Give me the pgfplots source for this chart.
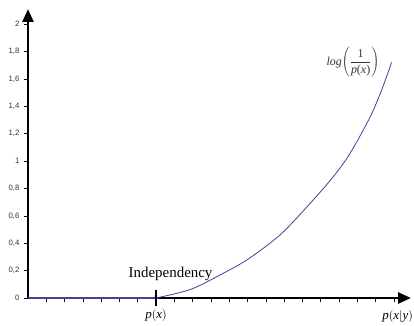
\documentclass[border=0pt]{standalone}
\usepackage{fontspec}
\setmainfont{Liberation Serif}
\newfontfamily\arial{Liberation Sans}
\usepackage{pgfplots}
\pgfplotsset{compat=1.18}
\usetikzlibrary{arrows.meta}
\definecolor{curve}{RGB}{72,62,150}
\begin{document}
\begin{tikzpicture}
\begin{axis}[
  scale only axis, width=383bp, height=289bp,
  xmin=0, xmax=20.93, ymin=0, ymax=2.11,
  axis x line*=bottom, axis y line*=left,
  axis line style={line width=2.6bp, black},
  every outer x axis line/.append style={-{Triangle[length=13bp,width=11bp]}},
  every outer y axis line/.append style={-{Triangle[length=13bp,width=11bp]}},
  xtick={1,...,20}, xticklabels={},
  ytick={0,0.2,...,2.01},
  tick align=outside,
  x tick style={black, line width=0.6bp},
  y tick style={black, line width=0.5bp},
  major tick length=4bp,
  yticklabel style={font=\arial\fontsize{7.8}{8}\selectfont, text=black!80, xshift=-1bp},
  /pgf/number format/.cd, use comma, fixed, precision=1, assume math mode=true,
  /pgfplots/.cd,
  clip=false,
]
\addplot[curve, line width=2.6bp] coordinates {(0,0) (7.1,0)};
\addplot[curve, line width=0.8bp, smooth] coordinates {
 (7.0,0.0) (8.0,0.03) (9.03,0.07) (10.31,0.155) (11.95,0.277) (13.77,0.46)
 (15.41,0.69) (16.68,0.885) (17.6,1.056) (18.69,1.32) (19.33,1.52) (19.87,1.72)};
\draw[black, line width=1.6bp] (axis cs:7,0) ++(0,8bp) -- ++(0,-16bp);
\node[font=\fontsize{15}{17}\selectfont, anchor=base] at ([yshift=21bp]axis cs:7.79,0) {Independency};
\node[font=\fontsize{13}{15}\selectfont] at ([yshift=-18bp]axis cs:7,0) {\textit{p}\(\big(\)\textit{x}\(\big)\)};
\node[font=\fontsize{13}{15}\selectfont] at ([yshift=-19bp]axis cs:20.2,0) {\textit{p}\(\big(\)\textit{x}\(\big|\)\textit{y}\(\big)\)};
\node[font=\fontsize{12}{14}\selectfont, text=black!80] at (axis cs:17.76,1.72) {\textit{log}\(\displaystyle\left(\frac{\mbox{\fontsize{12}{14}\selectfont 1}}{\mbox{\fontsize{12}{14}\selectfont\textit{p}(\textit{x})}}\right)\)};
\end{axis}
\pgfresetboundingbox
\path[use as bounding box] ([shift={(-28bp,-28bp)}]current axis.south west) rectangle ([shift={(3bp,9bp)}]current axis.north east);
\end{tikzpicture}
\end{document}
